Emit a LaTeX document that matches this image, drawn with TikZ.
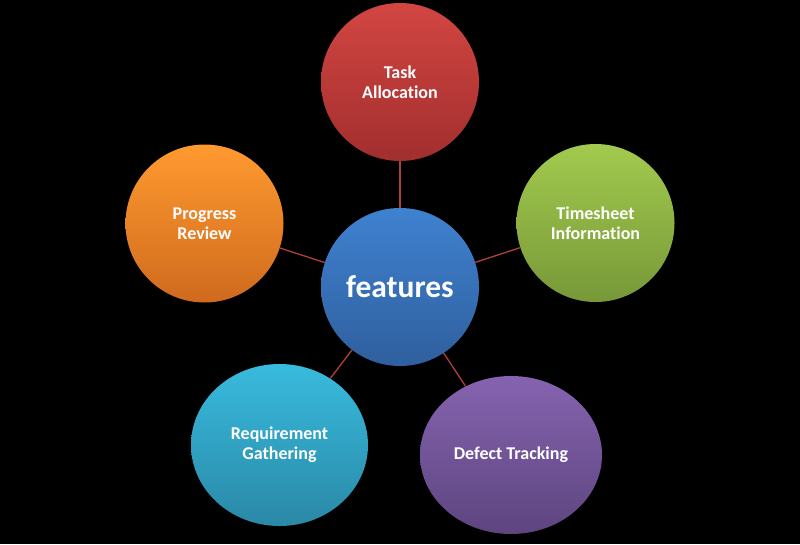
\documentclass[tikz,border=0pt]{standalone}
\usepackage{fontspec}
\setmainfont{Carlito}[Ligatures=NoCommon]
\usetikzlibrary{shapes.geometric}

% bubble palettes: light top, darker bottom
\definecolor{coreTop}{HTML}{3F82D0}
\definecolor{coreBot}{HTML}{2F5F9E}
\definecolor{redTop}{HTML}{D24642}
\definecolor{redBot}{HTML}{A22E2E}
\definecolor{orgTop}{HTML}{FF9A30}
\definecolor{orgBot}{HTML}{CF6A1E}
\definecolor{grnTop}{HTML}{A2CA4E}
\definecolor{grnBot}{HTML}{779838}
\definecolor{cynTop}{HTML}{38BBDE}
\definecolor{cynBot}{HTML}{2A88A6}
\definecolor{purTop}{HTML}{8663B0}
\definecolor{purBot}{HTML}{5D457F}
\definecolor{linkred}{HTML}{B0403C}

\begin{document}
\begin{tikzpicture}[x=1pt,y=-1pt,
  bubble/.style={ellipse, inner sep=0pt, align=center, text=white,
    font=\bfseries\fontsize{18}{20}\selectfont},
  round/.style={bubble, minimum width=158pt, minimum height=158pt},
  link/.style={draw=linkred, line width=1.3pt}]

% page background
\fill[black] (0,0) rectangle (800,544);
\useasboundingbox (0,0) rectangle (800,544);

% central hub
\node[round, top color=coreTop, bottom color=coreBot,
      font=\bfseries\fontsize{31.5}{36}\selectfont] (core) at (400,287) {features};

% surrounding topics
\node[round, top color=redTop, bottom color=redBot] (task) at (400,82) {Task\\Allocation};
\node[round, top color=orgTop, bottom color=orgBot] (progress) at (204.5,223.5) {Progress\\Review};
\node[round, top color=grnTop, bottom color=grnBot] (timesheet) at (595.5,223) {Timesheet\\Information};
\node[bubble, minimum width=177pt, minimum height=162pt,
      top color=cynTop, bottom color=cynBot] (req) at (279.5,445) {Requirement\\Gathering};
\node[bubble, minimum width=182pt, minimum height=158pt,
      top color=purTop, bottom color=purBot] (defect) at (511,455) {Defect Tracking};

% spokes
\draw[link] (core) -- (task);
\draw[link] (core) -- (progress);
\draw[link] (core) -- (timesheet);
\draw[link] (core) -- (req);
\draw[link] (core) -- (defect);
\end{tikzpicture}
\end{document}
